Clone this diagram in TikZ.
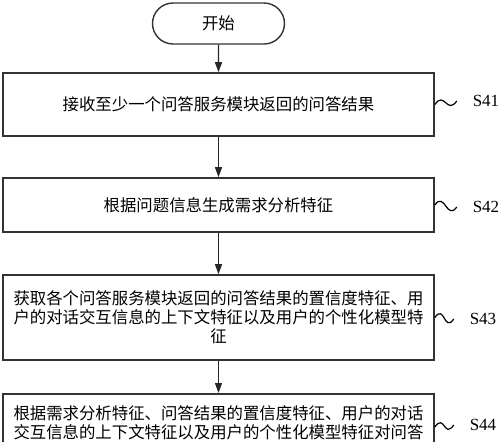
\documentclass[tikz,border=0pt]{standalone}
\usepackage{fontspec}
\setmainfont{Liberation Serif}
\newfontfamily\cjkfont{Noto Sans CJK SC}
\usetikzlibrary{arrows.meta,positioning,shapes.misc}
\tikzset{
  fcstart/.style={
    rounded rectangle, draw=black!80, line width=0.7pt,
    minimum width=68pt, minimum height=20.5pt, inner sep=1pt,
    font=\cjkfont\fontsize{8.2pt}{9.5pt}\selectfont
  },
  fcstep/.style={
    rectangle, draw=black!80, line width=0.8pt,
    minimum width=215.5pt, inner xsep=4pt, align=center,
    font=\cjkfont\fontsize{8.2pt}{9.5pt}\selectfont
  },
  fcedge/.style={-{Triangle[length=5pt,width=3.5pt]},line width=0.6pt,draw=black!85},
  fcwave/.style={line width=0.6pt,
    to path={(\tikztostart) .. controls +(5pt,7pt) and +(-5pt,-7pt) .. (\tikztotarget)}},
  fcstepno/.style={font=\fontsize{8.5pt}{9pt}\selectfont,inner sep=0pt,outer sep=8pt}
}

\begin{document}
\begin{tikzpicture}[x=0.5pt,y=-0.5pt]
\useasboundingbox (0,0) rectangle (500,441);
\clip (0,0) rectangle (500,441);
% flow of steps, one column
\node[fcstart] (start) at (218.5,23.5) {开始};
\node[fcstep,minimum height=31.5pt] (b1) at (218.5,104.5) {接收至少一个问答服务模块返回的问答结果};
\node[fcstep,minimum height=27pt] (b2) at (218.5,205) {根据问题信息生成需求分析特征};
\node[fcstep,minimum height=42.5pt] (b3) at (218.5,317.5)
  {获取各个问答服务模块返回的问答结果的置信度特征、用\\户的对话交互信息的上下文特征以及用户的个性化模型特\\征};
\node[fcstep,anchor=north,inner ysep=6pt] (b4) at (218.5,393)
  {根据需求分析特征、问答结果的置信度特征、用户的对话\\交互信息的上下文特征以及用户的个性化模型特征对问答};

\draw[fcedge] (start) -- (b1);
\draw[fcedge] (b1) -- (b2);
\draw[fcedge] (b2) -- (b3);
\draw[fcedge] (b3) -- (b4);

% step numbers
\node[fcstepno] (s41) at (486,101) {S41};
\node[fcstepno] (s42) at (486,207) {S42};
\node[fcstepno] (s43) at (483,319) {S43};
\node[fcstepno] (s44) at (483,425) {S44};
\draw[fcwave] (b1.east) to (s41.west);
\draw[fcwave] (b2.east) to (s42.west);
\draw[fcwave] (b3.east) to (s43.west);
\draw[fcwave] (b4.east |- 0,427) to (s44.west);
\end{tikzpicture}
\end{document}
